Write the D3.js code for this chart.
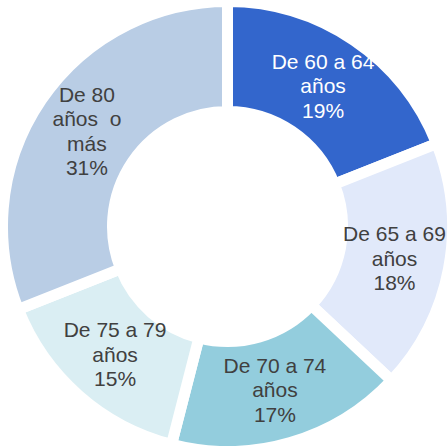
<!DOCTYPE html>
<html>
<head>
<meta charset="utf-8">
<script src="https://cdn.jsdelivr.net/npm/d3@7/dist/d3.min.js"></script>
<style>
html,body{margin:0;padding:0;background:#fff;}
svg{display:block;}
</style>
</head>
<body>
<svg id="chart" width="448" height="446"></svg>
<script>
const categories = ["De 60 a 64 años", "De 65 a 69 años", "De 70 a 74 años", "De 75 a 79 años", "De 80 años o más"];
const values = [19, 18, 17, 15, 31];
const labelLines = [
  ["De 60 a 64", "años", "19%"],
  ["De 65 a 69", "años", "18%"],
  ["De 70 a 74", "años", "17%"],
  ["De 75 a 79", "años", "15%"],
  ["De 80", "años  o", "más", "31%"]
];
const colors = ["#3366CC", "#E1E9FA", "#93CDDD", "#DAEEF3", "#B9CDE5"];
const textColors = ["#FFFFFF", "#404040", "#404040", "#404040", "#404040"];

const svg = d3.select("#chart");
const cx = 227.5, cy = 226.5;
const g = svg.append("g").attr("transform", `translate(${cx},${cy})`);

const pie = d3.pie().sort(null).value(d => d.value);
const data = pie(categories.map((c, i) => ({ cat: c, value: values[i], i })));

const arc = d3.arc().innerRadius(115).outerRadius(225);
const labelArc = d3.arc().innerRadius(170).outerRadius(170);

g.selectAll("path")
  .data(data)
  .join("path")
  .attr("d", arc)
  .attr("fill", d => colors[d.data.i])
  .attr("stroke", "#fff")
  .attr("stroke-width", 11)
  .attr("stroke-linejoin", "miter");

const lineH = 24.5;
const labels = g.selectAll("text.lbl")
  .data(data)
  .join("text")
  .attr("class", "lbl")
  .attr("transform", d => { const c = labelArc.centroid(d); return `translate(${c[0]},${c[1]})`; })
  .attr("text-anchor", "middle")
  .attr("font-family", "'Liberation Sans', Arial, sans-serif")
  .attr("font-size", 21)
  .attr("fill", d => textColors[d.data.i])
  .style("white-space", "pre");

labels.each(function(d) {
  const lines = labelLines[d.data.i];
  const n = lines.length;
  const t = d3.select(this);
  lines.forEach((ln, k) => {
    t.append("tspan")
      .attr("x", 0)
      .attr("y", (k - (n - 1) / 2) * lineH + 7.5)
      .text(ln);
  });
});
</script>
</body>
</html>
